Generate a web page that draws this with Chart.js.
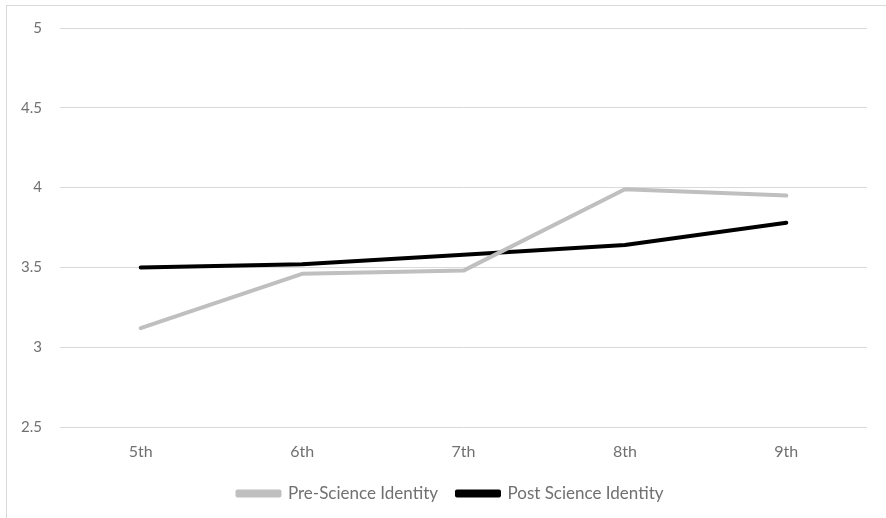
<!DOCTYPE html>
<html><head><meta charset="utf-8">
<script src="https://cdn.jsdelivr.net/npm/chart.js@4/dist/chart.umd.min.js"></script>
<style>
html,body{margin:0;padding:0;background:#fff;overflow:hidden;width:886px;height:518px;}
#frame{position:absolute;left:6px;top:5px;width:900px;height:600px;border:1px solid #d9d9d9;box-sizing:border-box;}
#wrap{position:absolute;left:0;top:0;width:886px;height:518px;}
</style></head>
<body>
<div id="frame"></div>
<div id="wrap"><canvas id="c" width="886" height="518"></canvas></div>
<script>
const categories = ["5th", "6th", "7th", "8th", "9th"];
const preScience = [3.12, 3.46, 3.48, 3.99, 3.95];
const postScience = [3.50, 3.52, 3.58, 3.64, 3.78];
const yTicks = [2.5, 3, 3.5, 4, 4.5, 5];

const FONT = "Lato, 'Open Sans', sans-serif";
const TXT = "#707070";

const legendShift = {
  id: 'legendShift',
  afterLayout(chart) {
    const lg = chart.legend;
    if (!lg) return;
    const dx = 17, dy = 3;
    lg.left += dx; lg.right += dx; lg.top += dy; lg.bottom += dy;
  }
};

new Chart(document.getElementById('c'), {
  type: 'line',
  data: {
    labels: categories,
    datasets: [
      {label: 'Pre-Science Identity', data: preScience, borderColor: '#bfbfbf', backgroundColor: '#bfbfbf', borderWidth: 4, pointRadius: 0, tension: 0, borderCapStyle: 'round', borderJoinStyle: 'round'},
      {label: 'Post Science Identity', data: postScience, borderColor: '#000000', backgroundColor: '#000000', borderWidth: 4, pointRadius: 0, tension: 0, borderCapStyle: 'round', borderJoinStyle: 'round'}
    ]
  },
  plugins: [legendShift],
  options: {
    responsive: false,
    animation: false,
    layout: {padding: {left: 0, right: 19, top: 28, bottom: 9}},
    plugins: {
      tooltip: {enabled: false},
      legend: {
        position: 'bottom',
        labels: {boxWidth: 42, boxHeight: 4, padding: 19, color: TXT, font: {family: FONT, size: 17}}
      }
    },
    scales: {
      x: {
        offset: true,
        grid: {display: false, drawTicks: false},
        border: {display: false},
        ticks: {color: TXT, font: {family: FONT, size: 16}, padding: 15},
        afterFit: s => { s.height = 36; }
      },
      y: {
        min: 2.5, max: 5,
        afterBuildTicks: s => { s.ticks = yTicks.map(v => ({value: v})); },
        grid: {color: '#d9d9d9', lineWidth: 1, drawTicks: false},
        border: {display: false},
        ticks: {color: TXT, font: {family: FONT, size: 15}, padding: 18, callback: v => String(v)},
        afterFit: s => { s.width = 60; }
      }
    }
  }
});
</script>
</body></html>
